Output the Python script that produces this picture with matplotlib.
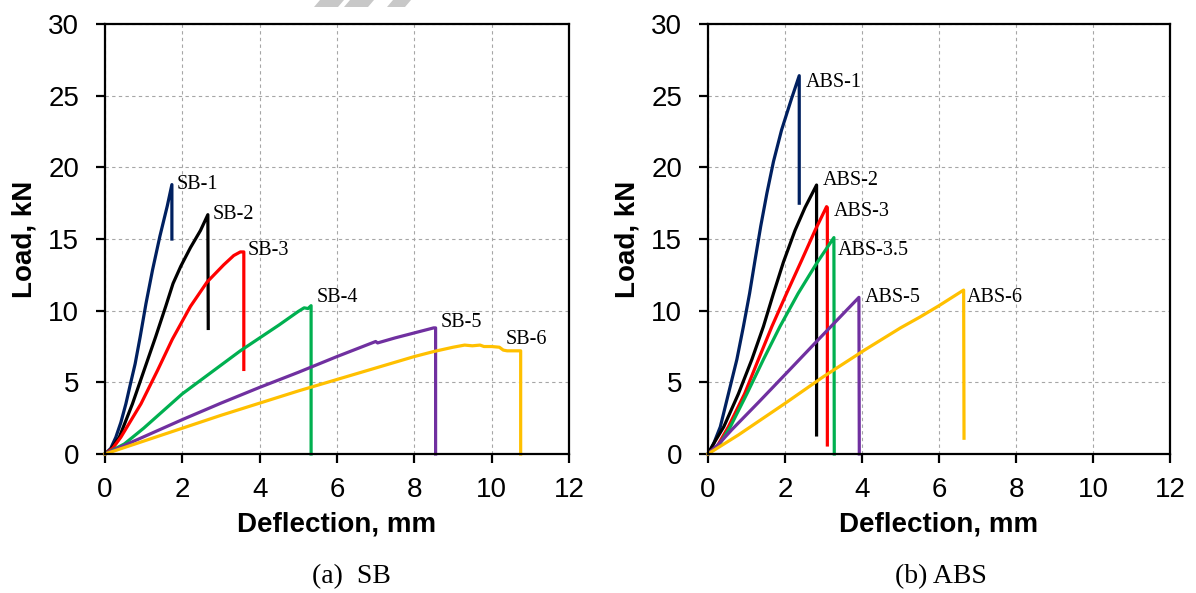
import numpy as np
import matplotlib.pyplot as plt
from matplotlib.patches import Polygon

########################################
# data (deflection in mm, load in kN)

sb1_x = [0, 0.15, 0.28, 0.41, 0.54, 0.65, 0.78, 0.91, 1.06, 1.23, 1.42, 1.61, 1.73, 1.73]
sb1_y = [0, 0.4, 1.17, 2.2, 3.5, 4.8, 6.3, 8.18, 10.5, 12.85, 15.2, 17.3, 18.8, 15.0]

sb2_x = [0, 0.15, 0.37, 0.71, 1.01, 1.31, 1.57, 1.76, 1.96, 2.21, 2.47, 2.66, 2.67]
sb2_y = [0, 0.3, 1.17, 3.5, 5.84, 8.18, 10.3, 11.9, 13.1, 14.4, 15.6, 16.7, 8.76]

sb3_x = [0, 0.2, 0.41, 0.93, 1.36, 1.74, 2.21, 2.64, 3.07, 3.33, 3.5, 3.59, 3.59]
sb3_y = [0, 0.4, 1.17, 3.5, 5.84, 8.0, 10.3, 12.0, 13.2, 13.85, 14.1, 14.1, 5.9]

sb4_x = [0, 0.5, 1.0, 1.5, 2.0, 2.5, 3.0, 3.5, 4.0, 4.5, 5.0, 5.15, 5.25, 5.33, 5.33]
sb4_y = [0, 0.7, 1.8, 3.0, 4.2, 5.2, 6.2, 7.2, 8.1, 9.0, 9.95, 10.2, 10.15, 10.35, 0]

sb5_x = [0, 1, 2, 3, 4, 5, 6, 7.0, 7.05, 7.5, 8.0, 8.5, 8.55, 8.55]
sb5_y = [0, 1.2, 2.4, 3.55, 4.65, 5.7, 6.8, 7.85, 7.75, 8.1, 8.45, 8.8, 8.8, 0]

sb6_x = [0, 1, 2, 3, 4, 5, 6, 7, 8, 8.5, 9.0, 9.3, 9.5, 9.7, 9.8, 10.0, 10.2, 10.3, 10.4, 10.75, 10.75]
sb6_y = [0, 0.9, 1.8, 2.7, 3.55, 4.4, 5.2, 6.0, 6.8, 7.15, 7.45, 7.6, 7.55, 7.6, 7.5, 7.5, 7.45, 7.25, 7.2, 7.2, 0]

abs1_x = [0, 0.15, 0.32, 0.53, 0.75, 0.92, 1.08, 1.22, 1.37, 1.53, 1.70, 1.91, 2.17, 2.37, 2.37]
abs1_y = [0, 0.74, 1.9, 4.2, 6.6, 8.9, 11.2, 13.5, 15.9, 18.2, 20.4, 22.6, 24.8, 26.4, 17.5]

abs2_x = [0, 0.15, 0.41, 0.79, 1.14, 1.44, 1.70, 1.96, 2.26, 2.52, 2.82, 2.82]
abs2_y = [0, 0.74, 1.9, 4.2, 6.6, 8.9, 11.2, 13.4, 15.6, 17.2, 18.77, 1.33]

abs3_x = [0, 0.25, 0.53, 0.95, 1.31, 1.66, 2.04, 2.43, 2.78, 3.08, 3.1, 3.1]
abs3_y = [0, 0.6, 1.9, 4.2, 6.6, 8.9, 11.2, 13.5, 15.6, 17.26, 17.2, 0.63]

abs35_x = [0, 0.28, 0.58, 1.01, 1.44, 1.87, 2.34, 2.82, 3.27, 3.28]
abs35_y = [0, 0.6, 1.9, 4.2, 6.6, 8.9, 11.2, 13.3, 15.1, 0]

abs5_x = [0, 0.28, 0.62, 1.31, 2.04, 2.82, 3.92, 3.93]
abs5_y = [0, 0.7, 1.7, 3.6, 5.65, 7.85, 10.93, 0]

abs6_x = [0, 0.79, 2.0, 3.0, 4.07, 5.0, 5.5, 6.0, 6.64, 6.65]
abs6_y = [0, 1.33, 3.53, 5.4, 7.26, 8.8, 9.55, 10.35, 11.44, 1.1]

sb_curves = [(sb1_x, sb1_y), (sb2_x, sb2_y), (sb3_x, sb3_y),
             (sb4_x, sb4_y), (sb5_x, sb5_y), (sb6_x, sb6_y)]
abs_curves = [(abs1_x, abs1_y), (abs2_x, abs2_y), (abs3_x, abs3_y),
              (abs35_x, abs35_y), (abs5_x, abs5_y), (abs6_x, abs6_y)]

colors = ['#002060', '#000000', '#ff0000', '#00b050', '#7030a0', '#ffc000']

sb_names = ['SB-1', 'SB-2', 'SB-3', 'SB-4', 'SB-5', 'SB-6']
sb_lab_pos = [(1.86, 18.8), (2.78, 16.7), (3.68, 14.2), (5.47, 10.9), (8.67, 9.2), (10.35, 8.0)]
abs_names = ['ABS-1', 'ABS-2', 'ABS-3', 'ABS-3.5', 'ABS-5', 'ABS-6']
abs_lab_pos = [(2.53, 25.9), (2.98, 19.1), (3.26, 16.9), (3.37, 14.2), (4.08, 10.9), (6.72, 10.95)]

captions = ['(a)  SB', '(b) ABS']

########################################
# plotting

def setup_axis(ax):
    ax.set_xlim(0, 12)
    ax.set_ylim(0, 30)
    ax.set_xticks(np.arange(0, 13, 2))
    ax.set_yticks(np.arange(0, 31, 5))
    ax.grid(True, color='#a6a6a6', linestyle=(0, (3, 3)), linewidth=0.8)
    ax.set_axisbelow(True)
    for s in ax.spines.values():
        s.set_linewidth(1.6)
    ax.tick_params(direction='out', length=6.5, width=1.6, labelsize=20)
    ax.tick_params(axis='y', pad=12)
    ax.tick_params(axis='x', pad=10)
    for lab in ax.get_xticklabels() + ax.get_yticklabels():
        lab.set_family('Liberation Sans')
    ax.set_xlabel('Deflection, mm', fontsize=20, fontweight='bold', family='Liberation Sans', labelpad=6)
    ax.set_ylabel('Load, kN', fontsize=20, fontweight='bold', family='Liberation Sans', labelpad=8)


fig = plt.figure(figsize=(11.96, 5.93), dpi=100)
ax1 = fig.add_axes([105 / 1196, 0.2344, 464 / 1196, 0.725])
ax2 = fig.add_axes([708 / 1196, 0.2344, 462 / 1196, 0.725])

cap_x = [351 / 1196, 941 / 1196]

for ax, curves, names, pos, cap, cx in [(ax1, sb_curves, sb_names, sb_lab_pos, captions[0], cap_x[0]),
                                        (ax2, abs_curves, abs_names, abs_lab_pos, captions[1], cap_x[1])]:
    setup_axis(ax)
    for (x, y), c in zip(curves, colors):
        ax.plot(x, y, color=c, linewidth=2.3, solid_joinstyle='round', clip_on=False)
    for n, (px, py) in zip(names, pos):
        ax.text(px, py, n, fontsize=14.5, family='Liberation Serif', va='center', ha='left')
    fig.text(cx, 1 - 577 / 593, cap, fontsize=20, family='Liberation Serif', ha='center', va='center')

# faint watermark fragments at the top edge
for x0 in [320, 350, 393]:
    w = 24 if x0 < 390 else 18
    pts = [(x0 / 1196, 1), ((x0 + w) / 1196, 1), ((x0 + w - 6) / 1196, 1 - 7 / 593), ((x0 - 6) / 1196, 1 - 7 / 593)]
    fig.patches.append(Polygon(pts, closed=True, transform=fig.transFigure, color='#c8c8c8', lw=0))

fig.savefig('out.png', dpi=100)
